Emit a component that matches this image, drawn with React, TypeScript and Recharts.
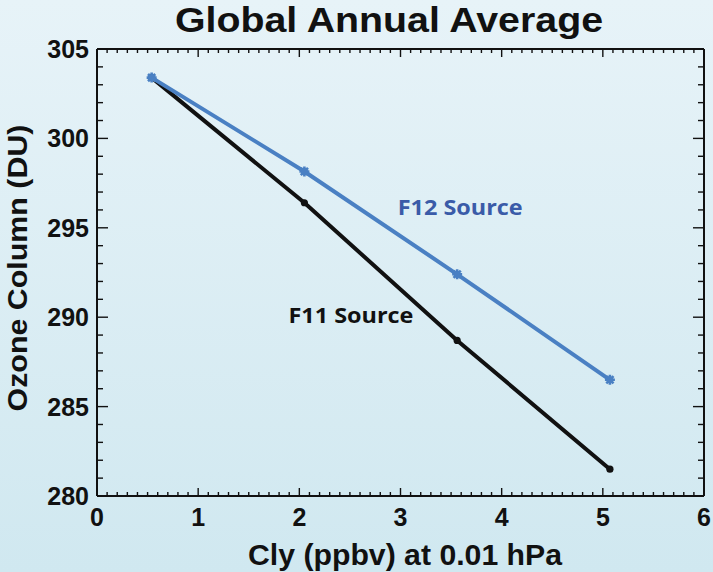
import React from 'react';
import { LineChart, Line, XAxis, YAxis, ReferenceDot } from 'recharts';

const clyValues = [0.54, 2.05, 3.56, 5.07];
const f11Values = [303.4, 296.4, 288.7, 281.5];
const f12Values = [303.4, 298.15, 292.4, 286.5];

const xTicks = Array.from({ length: 61 }, (_, i) => i / 10);
const yTicks = Array.from({ length: 26 }, (_, i) => 280 + i);
const xLabelStep = 1;
const yLabelStep = 5;

const annotLabels = ['F12 Source', 'F11 Source'];
const annotX = [3.59, 2.51];
const annotY = [295.7, 289.7];
const annotColors = ['#3a5ba8', '#111111'];

const titleText = 'Global Annual Average';
const xTitle = 'Cly (ppbv) at 0.01 hPa';
const yTitle = 'Ozone Column (DU)';

const data = clyValues.map((x, i) => ({ x, f11: f11Values[i], f12: f12Values[i] }));

const BLUE = '#4a80c3';
const INK = '#111111';
const FONT = '"Liberation Sans", Arial, Helvetica, sans-serif';

const isMajor = (v: number, step: number) => Math.abs(v / step - Math.round(v / step)) < 1e-6;

const BlackDot = (props: any) => {
  const { cx, cy } = props;
  if (cx == null || cy == null) return null;
  return <circle cx={cx} cy={cy} r={3.6} fill={INK} />;
};

const BlueDot = (props: any) => {
  const { cx, cy } = props;
  if (cx == null || cy == null) return null;
  const d = `M${cx - 5},${cy} L${cx + 5},${cy} M${cx},${cy - 5} L${cx},${cy + 5} M${cx - 3.6},${cy - 3.6} L${cx + 3.6},${cy + 3.6} M${cx - 3.6},${cy + 3.6} L${cx + 3.6},${cy - 3.6}`;
  return (
    <g>
      <path d={d} stroke={BLUE} strokeWidth={2.6} fill="none" />
      <circle cx={cx} cy={cy} r={3.4} fill={BLUE} />
    </g>
  );
};

// bottom axis: inward tick + label on majors
const BottomTick = (props: any) => {
  const { x, y, payload } = props;
  const major = isMajor(payload.value, xLabelStep);
  const len = major ? 8 : 4;
  return (
    <g>
      <line x1={x} x2={x} y1={y} y2={y - len} stroke={INK} strokeWidth={1.4} />
      {major && (
        <text x={x} y={y + 30} textAnchor="middle" fontFamily={FONT} fontWeight="bold" fontSize={25} fill={INK}>
          {Math.round(payload.value)}
        </text>
      )}
    </g>
  );
};

const TopTick = (props: any) => {
  const { x, y, payload } = props;
  const major = isMajor(payload.value, xLabelStep);
  const len = major ? 8 : 4;
  return <line x1={x} x2={x} y1={y} y2={y + len} stroke={INK} strokeWidth={1.4} />;
};

const LeftTick = (props: any) => {
  const { x, y, payload } = props;
  const major = isMajor(payload.value - 280, yLabelStep);
  const len = major ? 11 : 6;
  return (
    <g>
      <line x1={x} x2={x + len} y1={y} y2={y} stroke={INK} strokeWidth={1.4} />
      {major && (
        <text x={x - 8} y={y + 9} textAnchor="end" fontFamily={FONT} fontWeight="bold" fontSize={25} fill={INK}>
          {payload.value}
        </text>
      )}
    </g>
  );
};

const RightTick = (props: any) => {
  const { x, y, payload } = props;
  const major = isMajor(payload.value - 280, yLabelStep);
  const len = major ? 11 : 6;
  return <line x1={x} x2={x - len} y1={y} y2={y} stroke={INK} strokeWidth={1.4} />;
};

const XTitle = (props: any) => {
  const vb = props.viewBox || {};
  const cx = vb.x + vb.width / 2 + 4.5;
  return (
    <text x={cx} y={vb.y + 69} textAnchor="middle" fontFamily={FONT} fontWeight="bold" fontSize={29} fill={INK}
      textLength={314} lengthAdjust="spacingAndGlyphs">
      {xTitle}
    </text>
  );
};

const YTitle = (props: any) => {
  const vb = props.viewBox || {};
  const cy = vb.y + vb.height / 2 - 4.5;
  const cx = vb.x + 27;
  return (
    <text x={cx} y={cy} transform={`rotate(-90 ${cx} ${cy})`} textAnchor="middle" fontFamily={FONT} fontWeight="bold"
      fontSize={28} fill={INK} textLength={287} lengthAdjust="spacingAndGlyphs">
      {yTitle}
    </text>
  );
};

const makeAnnot = (i: number) => (props: any) => {
  const { cx, cy } = props;
  if (cx == null || cy == null) return null;
  return (
    <text x={cx} y={cy} textAnchor="middle" fontFamily='"Open Sans", "Noto Sans", sans-serif' fontWeight="bold"
      fontSize={21} fill={annotColors[i]} textLength={125} lengthAdjust="spacingAndGlyphs">
      {annotLabels[i]}
    </text>
  );
};

const frameStyle = { stroke: INK, strokeWidth: 2 };

export default function App() {
  return (
    <div
      style={{
        position: 'absolute',
        left: 0,
        top: 0,
        width: 713,
        height: 572,
        background: 'linear-gradient(180deg, #e7f3f8 0%, #d0e8f0 100%)',
      }}
    >
      <LineChart width={713} height={572} data={data} margin={{ top: 48, right: 8, bottom: 0, left: 0 }}>
        <XAxis xAxisId="main" orientation="bottom" type="number" dataKey="x" domain={[0, 6]} allowDataOverflow
          ticks={xTicks} interval={0} height={76} tick={<BottomTick />} tickSize={0} tickMargin={0} tickLine={false}
          axisLine={frameStyle} label={<XTitle />} />
        <XAxis xAxisId="top" orientation="top" type="number" dataKey="x" domain={[0, 6]} allowDataOverflow
          ticks={xTicks} interval={0} height={1} tick={<TopTick />} tickSize={0} tickMargin={0} tickLine={false}
          axisLine={frameStyle} />
        <YAxis yAxisId="main" orientation="left" type="number" domain={[280, 305]} allowDataOverflow
          ticks={yTicks} interval={0} width={97} tick={<LeftTick />} tickSize={0} tickMargin={0} tickLine={false}
          axisLine={frameStyle} label={<YTitle />} />
        <YAxis yAxisId="right" orientation="right" type="number" domain={[280, 305]} allowDataOverflow
          ticks={yTicks} interval={0} width={1} tick={<RightTick />} tickSize={0} tickMargin={0} tickLine={false}
          axisLine={frameStyle} />

        <Line xAxisId="main" yAxisId="main" type="linear" dataKey="f11" stroke={INK} strokeWidth={4}
          dot={<BlackDot />} activeDot={false} isAnimationActive={false} />
        <Line xAxisId="main" yAxisId="main" type="linear" dataKey="f12" stroke={BLUE} strokeWidth={4}
          dot={<BlueDot />} activeDot={false} isAnimationActive={false} />

        {annotLabels.map((_, i) => (
          <ReferenceDot key={i} xAxisId="main" yAxisId="main" x={annotX[i]} y={annotY[i]} r={0}
            shape={makeAnnot(i)} ifOverflow="visible" />
        ))}
      </LineChart>
      <svg width={713} height={60} style={{ position: 'absolute', left: 0, top: 0, pointerEvents: 'none' }}>
        <text x={389} y={32} textAnchor="middle" fontFamily={FONT} fontWeight="bold" fontSize={35} fill={INK}
          textLength={428} lengthAdjust="spacingAndGlyphs">
          {titleText}
        </text>
      </svg>
    </div>
  );
}
